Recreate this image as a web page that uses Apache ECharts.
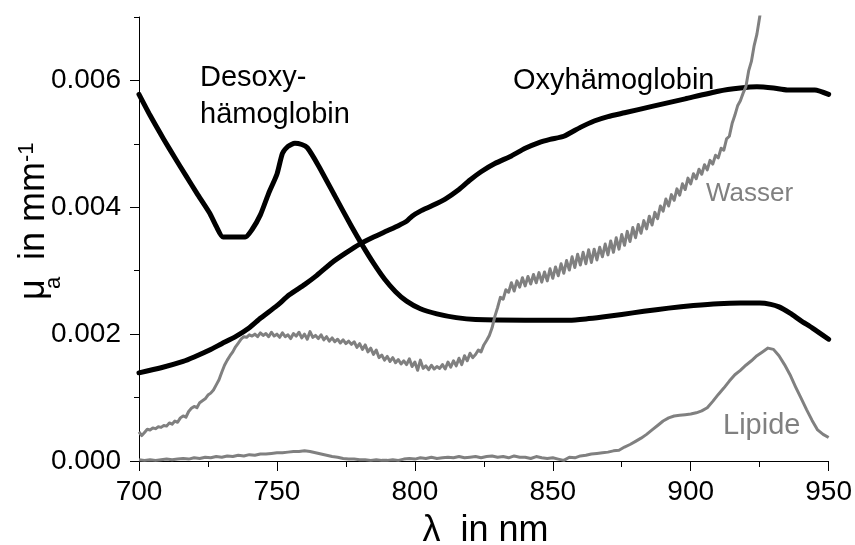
<!DOCTYPE html>
<html><head><meta charset="utf-8">
<script src="https://cdn.jsdelivr.net/npm/echarts@6/dist/echarts.min.js"></script>
<style>html,body{margin:0;padding:0;background:#fff}#c{width:855px;height:545px}</style>
</head><body><div id="c"></div>
<script>
// x axis ticks (nm) and y axis ticks (mm^-1)
const xTicks = [700, 750, 800, 850, 900, 950];
const yTicks = [0, 0.002, 0.004, 0.006];

// Desoxyhämoglobin [nm, mm^-1]
const desoxy = [[700,0.00578],[704,0.00545],[709,0.00507],[713,0.00478],[717,0.00450],[721,0.00422],[725.6,0.00391],[728,0.00370],[730.5,0.00353],[738.5,0.00353],[741,0.00365],[744,0.00388],[747,0.00422],[750,0.00452],[752,0.00485],[754,0.00496],[756.5,0.00501],[759,0.00499],[761,0.00494],[765,0.00466],[771,0.00418],[777,0.00370],[781,0.00340],[785,0.00312],[789,0.00287],[793,0.00267],[797,0.00252],[802,0.00240],[808,0.00232],[815,0.00226],[822,0.00223],[840,0.00222],[856,0.00222],[862,0.00224],[868,0.00227],[875,0.00231],[883,0.00236],[892,0.00241],[901,0.00245],[910,0.00248],[918,0.00249],[925,0.00249],[929,0.00247],[932,0.00243],[936,0.00233],[940,0.00221],[944,0.00210],[950,0.00192]];

// Oxyhämoglobin [nm, mm^-1]
const oxy = [[700,0.00139],[708,0.00147],[716,0.00157],[720,0.00164],[725.6,0.00175],[730,0.00185],[735,0.00196],[740,0.00210],[744,0.00225],[750,0.00245],[754.5,0.00262],[760,0.00278],[764,0.00291],[770,0.00313],[775,0.00328],[780,0.00342],[784.5,0.00352],[790,0.00363],[794,0.00371],[797,0.00378],[799,0.00386],[802,0.00394],[806,0.00402],[811,0.00413],[816,0.00428],[820,0.00443],[824,0.00456],[829,0.00469],[835,0.00481],[840,0.00493],[845,0.00502],[849,0.00507],[854,0.00512],[860,0.00526],[865,0.00536],[870,0.00543],[876,0.00549],[886,0.00559],[898,0.00571],[910,0.00583],[918,0.00588],[924,0.00590],[930,0.00588],[935,0.00585],[945,0.00585],[950,0.00578]];

// Wasser: one value per nm starting at 700 nm
const waterStartNm = 700;
const water = [
0.00046,0.00040,0.00045,0.00050,0.00049,0.00052,0.00051,0.00054,0.00053,0.00056,
0.00055,0.00060,0.00058,0.00063,0.00061,0.00068,0.00071,0.00069,0.00078,0.00083,
0.00086,0.00084,0.00092,0.00095,0.00098,0.00104,0.00107,0.00112,0.00120,0.00128,
0.00140,0.00151,0.00159,0.00166,0.00172,0.00180,0.00186,0.00192,0.00196,0.00195,
0.00199,0.00197,0.00200,0.00196,0.00202,0.00198,0.00201,0.00196,0.00203,0.00197,
0.00200,0.00195,0.00202,0.00196,0.00199,0.00193,0.00201,0.00197,0.00203,0.00194,
0.00200,0.00192,0.00204,0.00195,0.00198,0.00193,0.00199,0.00191,0.00196,0.00189,
0.00194,0.00188,0.00192,0.00186,0.00191,0.00185,0.00189,0.00184,0.00188,0.00179,
0.00185,0.00176,0.00183,0.00172,0.00178,0.00168,0.00175,0.00163,0.00167,0.00159,
0.00165,0.00157,0.00163,0.00155,0.00160,0.00153,0.00158,0.00152,0.00161,0.00149,
0.00156,0.00143,0.00159,0.00146,0.00150,0.00144,0.00151,0.00145,0.00149,0.00146,
0.00152,0.00145,0.00156,0.00148,0.00158,0.00150,0.00162,0.00152,0.00166,0.00158,
0.00170,0.00163,0.00168,0.00175,0.00172,0.00183,0.00190,0.00198,0.00210,0.00228,
0.00242,0.00258,0.00255,0.00270,0.00266,0.00281,0.00268,0.00284,0.00274,0.00289,
0.00276,0.00291,0.00279,0.00294,0.00281,0.00297,0.00282,0.00298,0.00284,0.00303,
0.00288,0.00306,0.00292,0.00311,0.00296,0.00316,0.00301,0.00322,0.00305,0.00326,
0.00309,0.00329,0.00311,0.00333,0.00313,0.00334,0.00317,0.00337,0.00322,0.00342,
0.00325,0.00347,0.00329,0.00352,0.00334,0.00357,0.00340,0.00362,0.00346,0.00368,
0.00352,0.00373,0.00359,0.00379,0.00366,0.00386,0.00372,0.00392,0.00382,0.00402,
0.00394,0.00413,0.00402,0.00420,0.00411,0.00429,0.00419,0.00437,0.00428,0.00446,
0.00437,0.00453,0.00445,0.00460,0.00452,0.00467,0.00459,0.00474,0.00468,0.00482,
0.00478,0.00493,0.00490,0.00508,0.00512,0.00532,0.00545,0.00560,0.00568,0.00580,
0.00590,0.00615,0.00630,0.00655,0.00673,0.00700,0.00730,0.00760
];

// Lipide: one value every 2 nm starting at 700 nm
const lipideStartNm = 700;
const lipideStepNm = 2;
const lipide = [
0.00002,0.00001,0.00002,0.00001,0.00002,0.00003,0.00002,0.00003,0.00004,0.00003,
0.00005,0.00004,0.00006,0.00005,0.00007,0.00006,0.00008,0.00007,0.00009,0.00008,
0.00010,0.00009,0.00011,0.00011,0.00012,0.00013,0.00013,0.00014,0.00015,0.00015,
0.00016,0.00015,0.00013,0.00011,0.00009,0.00007,0.00006,0.00004,0.00003,0.00003,
0.00002,0.00002,0.00001,0.00002,0.00001,0.00001,0.00002,0.00001,0.00003,0.00004,
0.00003,0.00005,0.00004,0.00006,0.00004,0.00005,0.00006,0.00005,0.00007,0.00005,
0.00006,0.00007,0.00005,0.00007,0.00008,0.00006,0.00007,0.00005,0.00008,0.00006,
0.00006,0.00004,0.00007,0.00005,0.00004,0.00005,0.00003,0.00001,0.00006,0.00005,
0.00008,0.00009,0.00011,0.00012,0.00013,0.00014,0.00016,0.00017,0.00022,0.00026,
0.00031,0.00036,0.00042,0.00049,0.00056,0.00063,0.00068,0.00071,0.00072,0.00073,
0.00074,0.00076,0.00079,0.00084,0.00094,0.00105,0.00115,0.00126,0.00136,0.00143,
0.00151,0.00158,0.00166,0.00172,0.00178,0.00176,0.00166,0.00152,0.00136,0.00117,
0.00099,0.00081,0.00064,0.00049,0.00042,0.00037
];

const waterData = water.map((v, i) => [waterStartNm + i, v]);
const lipideData = lipide.map((v, i) => [lipideStartNm + i * lipideStepNm, v]);

const FONT = "'Liberation Sans', Arial, sans-serif";
const GRAY = '#808080';

const chart = echarts.init(document.getElementById('c'), null, {renderer: 'canvas'});

function txt(text, x, y, size, color) {
  return {type: 'text', x: x, y: y, silent: true,
    style: {text: text, fontSize: size, fontFamily: FONT, fill: color,
      align: 'left', verticalAlign: 'middle', textAlign: 'left', textVerticalAlign: 'middle'}};
}

chart.setOption({
  animation: false,
  backgroundColor: '#fff',
  grid: {left: 139, right: 23, top: 17, bottom: 84, containLabel: false},
  xAxis: {
    type: 'value', min: xTicks[0], max: xTicks[xTicks.length - 1], interval: 50,
    axisLine: {show: true, onZero: false, lineStyle: {color: '#000', width: 1}},
    axisTick: {show: true, inside: false, length: 10, lineStyle: {color: '#000', width: 1}},
    minorTick: {show: true, splitNumber: 2, length: 6, lineStyle: {color: '#000', width: 1}},
    axisLabel: {fontSize: 28, fontFamily: FONT, color: '#000', margin: 17, lineHeight: 28},
    splitLine: {show: false}
  },
  yAxis: [{
    type: 'value', min: 0, max: 0.007, interval: 0.002,
    axisLine: {show: true, onZero: false, lineStyle: {color: '#000', width: 1}},
    axisTick: {show: true, inside: false, length: 9, lineStyle: {color: '#000', width: 1}},
    axisLabel: {fontSize: 28, fontFamily: FONT, color: '#000', margin: 18, showMaxLabel: false,
      formatter: v => yTicks.some(t => Math.abs(t - v) < 1e-9) ? v.toFixed(3) : ''},
    splitLine: {show: false}
  }, {
    type: 'value', min: 0, max: 0.007, interval: 0.001, position: 'left',
    axisLine: {show: false},
    axisTick: {show: true, inside: false, length: 5, lineStyle: {color: '#000', width: 1}},
    axisLabel: {show: false},
    splitLine: {show: false}
  }],
  series: [
    {type: 'line', data: desoxy, showSymbol: false, symbol: 'none', smooth: 0.2, yAxisIndex: 0,
      lineStyle: {color: '#000', width: 5, join: 'round', cap: 'round'}, z: 2},
    {type: 'line', data: oxy, showSymbol: false, symbol: 'none', smooth: 0.2, yAxisIndex: 0,
      lineStyle: {color: '#000', width: 5, join: 'round', cap: 'round'}, z: 2},
    {type: 'line', data: waterData, showSymbol: false, symbol: 'none', yAxisIndex: 0, clip: true,
      lineStyle: {color: GRAY, width: 3, join: 'round'}, z: 3},
    {type: 'line', data: lipideData, showSymbol: false, symbol: 'none', yAxisIndex: 0,
      lineStyle: {color: GRAY, width: 3, join: 'round'}, z: 3}
  ],
  graphic: [
    txt('Desoxy-', 200, 78, 29, '#000'),
    txt('hämoglobin', 200, 114.5, 29, '#000'),
    txt('Oxyhämoglobin', 513, 80.7, 29, '#000'),
    txt('Wasser', 706, 194.3, 26, GRAY),
    txt('Lipide', 723, 426, 29, GRAY),
    {type: 'text', x: 485.5, y: 531.5, silent: true,
      style: {text: 'λ  in nm', fontSize: 36, fontFamily: FONT, fill: '#000',
        align: 'center', verticalAlign: 'middle', textAlign: 'center', textVerticalAlign: 'middle'}},
    {type: 'group', x: 46.7, y: 300, rotation: Math.PI / 2, silent: true, children: [
      txt('μ', 0, -12.5, 36, '#000'),
      txt('a', 11, 7.4, 22, '#000'),
      txt('in mm', 40, -12.5, 36, '#000'),
      txt('-1', 138, -19.3, 22, '#000')
    ]}
  ]
});
</script>
</body></html>
